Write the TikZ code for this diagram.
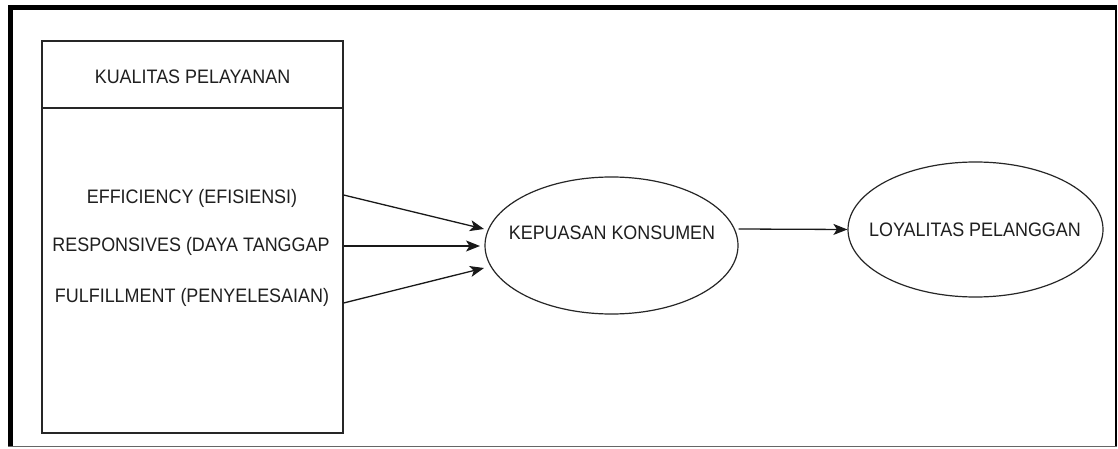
\documentclass[tikz,border=0pt]{standalone}
\usepackage{fontspec}
\setmainfont{Liberation Sans}
\newfontfamily\condsans[FakeStretch=0.92]{Liberation Sans}
\usetikzlibrary{shapes.geometric,arrows.meta}
\begin{document}
\begin{tikzpicture}[x=1pt,y=-1pt,
  lbl/.style={font=\condsans\fontsize{19.5}{22}\selectfont, text=black!88, inner sep=0pt},
  ell/.style={draw=black!85, line width=1.2pt, ellipse, inner sep=0pt},
  arr/.style={draw=black!90, line width=1.3pt, -{Stealth[length=14pt,width=11pt,inset=3.5pt]}},
  boxst/.style={draw=black!85, line width=1.2pt, rectangle, inner sep=0pt}]
\useasboundingbox (0,0) rectangle (1118,449);
\fill[white] (0,0) rectangle (1118,449);
% outer frame
\fill[black] (8,5) rectangle (1117,10);
\fill[black] (8,5) rectangle (13,447);
\draw[black, line width=1.5pt] (1116,5) -- (1116,447);
\draw[black!60, line width=1.5pt] (8,446.5) -- (1117,446.5);
% left box
\node[boxst, minimum width=301pt, minimum height=392pt] (box) at (192.5,237) {};
\draw[black!85, line width=1.2pt] (box.west |- 0,108) -- (box.east |- 0,108);
\node[lbl] (title) at (192.5,76.5) {KUALITAS PELAYANAN};
\node[lbl] (eff) at (192,198) {EFFICIENCY (EFISIENSI)};
\node[lbl] (res) at (191,246) {RESPONSIVES (DAYA TANGGAP};
\node[lbl] (ful) at (192,297) {FULFILLMENT (PENYELESAIAN)};
% ellipses
\node[ell, minimum width=253pt, minimum height=137pt] (kep) at (611.5,245.5) {};
\node[lbl] (kept) at (612,233) {KEPUASAN KONSUMEN};
\node[ell, minimum width=255pt, minimum height=135pt] (loy) at (975.5,229.5) {};
\node[lbl] (loyt) at (975,230) {LOYALITAS PELANGGAN};
% connectors
\coordinate (s1) at (343,195);
\coordinate (s2) at (343,246);
\coordinate (s3) at (343,303);
\coordinate (e1) at (484,229);
\coordinate (e2) at (480,246);
\coordinate (e3) at (484,268);
\draw[arr] (box.east |- s1) -- (e1);
\draw[arr] (box.east |- s2) -- (e2);
\draw[arr] (box.east |- s3) -- (e3);
\draw[arr] (kep.east |- 0,229) -- (loy.west);
\end{tikzpicture}
\end{document}
